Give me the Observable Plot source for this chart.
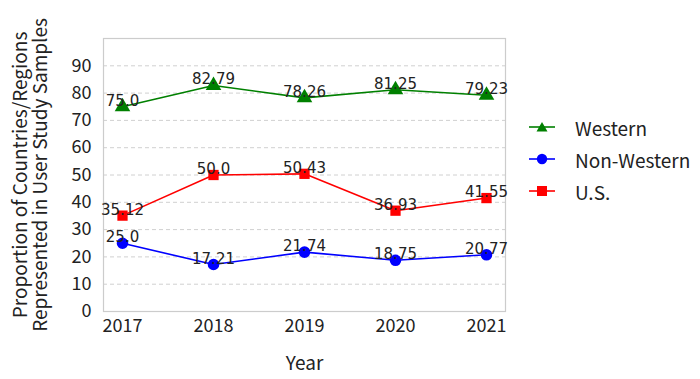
<!DOCTYPE html>
<html>
<head>
<meta charset="utf-8">
<script src="https://cdn.jsdelivr.net/npm/d3@7"></script>
<script src="https://cdn.jsdelivr.net/npm/@observablehq/plot@0.6"></script>
<style>
  body { margin: 0; background: #fff; }
  #wrap { position: relative; width: 700px; height: 379px; font-family: "Noto Sans CJK JP", "Noto Sans", sans-serif; }
  #legend { position: absolute; left: 529px; top: 111px; font-size: 19px; color: #222; }
  .row { display: flex; align-items: center; height: 32px; }
  .row svg { margin-right: 20px; }
</style>
</head>
<body>
<div id="wrap"><div id="chart"></div><div id="legend"></div></div>
<script>
const years = [2017, 2018, 2019, 2020, 2021];
const western = [75.0, 82.79, 78.26, 81.25, 79.23];
const nonWestern = [25.0, 17.21, 21.74, 18.75, 20.77];
const us = [35.12, 50.0, 50.43, 36.93, 41.55];
const seriesNames = ["Western", "Non-Western", "U.S."];
const seriesColors = ["#008000", "#0000ff", "#ff0000"];
const seriesSymbols = ["triangle", "circle", "square"];
const yTicks = [0, 10, 20, 30, 40, 50, 60, 70, 80, 90];
const yLabel = "Proportion of Countries/Regions\nRepresented in User Study Samples";

const valuesBySeries = [western, nonWestern, us];
const data = [];
seriesNames.forEach((s, i) => years.forEach((y, j) => {
  const v = valuesBySeries[i][j];
  data.push({series: s, year: y, value: v, label: Number.isInteger(v) ? v.toFixed(1) : String(v)});
}));

const marks = [
  Plot.gridY(yTicks.filter(d => d > 0), {stroke: "#d0d0d0", strokeOpacity: 1, strokeDasharray: "4,3"}),
  Plot.frame({stroke: "#cccccc", strokeWidth: 1.2}),
  Plot.axisY(yTicks, {tickSize: 0, tickPadding: 12, fontSize: 18, label: null, fill: "#222"}),
  Plot.axisX(years, {tickSize: 0, tickPadding: 8, fontSize: 18, tickFormat: d => String(d), label: "Year", labelAnchor: "center", labelOffset: 58, fill: "#222"}),
  Plot.text([yLabel], {frameAnchor: "left", rotate: -90, dx: -73, fontSize: 19, lineHeight: 1.07, fill: "#222", textAnchor: "middle"})
];
seriesNames.forEach((s, i) => {
  const d = data.filter(r => r.series === s);
  marks.push(Plot.line(d, {x: "year", y: "value", stroke: seriesColors[i], strokeWidth: 1.6}));
  marks.push(Plot.dot(d, {x: "year", y: "value", fill: seriesColors[i], symbol: () => seriesSymbols[i], r: 5.8, stroke: "none"}));
  marks.push(Plot.text(d, {x: "year", y: "value", text: "label", lineAnchor: "bottom", dy: -1, fontSize: 15, fill: "#222", fontFamily: "DejaVu Sans"}));
});

const chart = Plot.plot({
  width: 700, height: 379,
  marginLeft: 103, marginRight: 195, marginTop: 38, marginBottom: 68,
  style: {fontFamily: '"Noto Sans CJK JP", "Noto Sans", sans-serif', background: "#fff"},
  x: {type: "point", domain: years, padding: 0.2},
  y: {domain: [0, 100]},
  symbol: {type: "identity"},
  marks
});
chart.querySelectorAll("[aria-label='x-axis label'] text, [aria-label='x-axis label']").forEach(el => el.setAttribute("font-size", "19"));
document.getElementById("chart").appendChild(chart);

const legend = document.getElementById("legend");
seriesNames.forEach((s, i) => {
  const row = document.createElement("div");
  row.className = "row";
  const shape = seriesSymbols[i] === "triangle"
    ? `<path d="M13,6 L18.5,15.5 L7.5,15.5 Z" fill="${seriesColors[i]}"/>`
    : seriesSymbols[i] === "circle"
    ? `<circle cx="13" cy="11" r="5.2" fill="${seriesColors[i]}"/>`
    : `<rect x="8" y="6" width="10" height="10" fill="${seriesColors[i]}"/>`;
  row.innerHTML = `<svg width="26" height="22"><line x1="0" x2="26" y1="11" y2="11" stroke="${seriesColors[i]}" stroke-width="1.6"/>${shape}</svg><span>${s}</span>`;
  legend.appendChild(row);
});
</script>
</body>
</html>
